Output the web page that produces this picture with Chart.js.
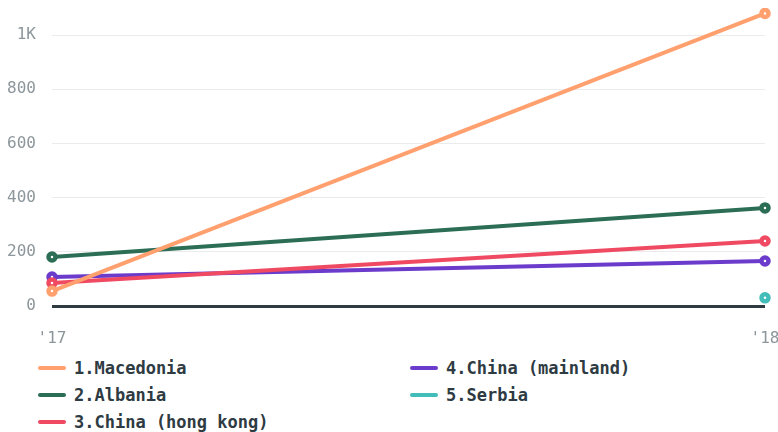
<!DOCTYPE html>
<html lang="en">
<head>
    <meta charset="UTF-8">
    <title>Chart</title>
    <script src="https://cdn.jsdelivr.net/npm/chart.js"></script>
    <style>
        body { margin: 0; background: #fff; width: 778px; height: 432px; overflow: hidden; position: relative; }
        #wrap { position: absolute; left: 0; top: 0; width: 778px; height: 350px; }
        .legend { position: absolute; top: 354px; left: 38px; display: grid; grid-template-columns: 372px 340px; grid-auto-flow: column; grid-template-rows: 27px 27px 27px; }
        .legend div { display: flex; align-items: center; font: bold 17px "DejaVu Sans Mono", monospace; color: #2e3b42; }
        .legend span { display: inline-block; width: 28px; height: 4px; border-radius: 2px; margin-right: 8px; }
    </style>
</head>
<body>
    <div id="wrap"><canvas id="chart"></canvas></div>
    <div class="legend" id="legend"></div>

    <script>
        // years on the x axis
        const years = ["'17", "'18"];
        const seriesNames = ['1.Macedonia', '2.Albania', '3.China (hong kong)', '4.China (mainland)', '5.Serbia'];
        const macedonia = [55, 1080];
        const albania = [181, 362];
        const hongKong = [85, 240];
        const mainland = [107, 166];
        const serbia = [null, 30];
        const colors = ['#ffa06e', '#2b6e55', '#ef4a62', '#6b3bcc', '#42bdb9'];

        const allValues = [macedonia, albania, hongKong, mainland, serbia];

        const datasets = allValues.map((vals, i) => ({
            label: seriesNames[i],
            data: vals,
            borderColor: colors[i],
            backgroundColor: '#ffffff',
            pointBackgroundColor: '#ffffff',
            pointBorderColor: colors[i],
            borderWidth: 4,
            pointRadius: 3.5,
            pointBorderWidth: 4.5,
            pointHoverRadius: 3.5,
            tension: 0
        }));

        // legend, column by column
        const legend = document.getElementById('legend');
        seriesNames.forEach((name, i) => {
            const item = document.createElement('div');
            item.innerHTML = '<span style="background:' + colors[i] + '"></span>' + name;
            legend.appendChild(item);
        });

        new Chart(document.getElementById('chart'), {
            type: 'line',
            data: { labels: years, datasets: datasets },
            options: {
                responsive: true,
                maintainAspectRatio: false,
                animation: false,
                layout: { padding: { top: 8, right: 13, bottom: 0, left: 0 } },
                plugins: { legend: { display: false }, tooltip: { enabled: false } },
                scales: {
                    x: {
                        offset: false,
                        grid: { display: false },
                        border: { display: false },
                        ticks: { color: '#8c969b', padding: 15, maxRotation: 0, font: { family: 'DejaVu Sans Mono', size: 16 } },
                        afterFit: scale => { scale.height = 44; scale.paddingLeft = 0; scale.paddingRight = 0; }
                    },
                    y: {
                        min: 0,
                        max: 1100,
                        border: { display: false },
                        grid: {
                            drawTicks: false,
                            color: c => c.tick.value === 0 ? '#2f3b40' : '#ebebeb',
                            lineWidth: c => c.tick.value === 0 ? 3 : 1
                        },
                        afterBuildTicks: scale => {
                            scale.ticks = [0, 200, 400, 600, 800, 1000].map(v => ({ value: v }));
                        },
                        ticks: {
                            color: '#8c969b',
                            padding: 16,
                            font: { family: 'DejaVu Sans Mono', size: 16 },
                            callback: v => v >= 1000 ? (v / 1000) + 'K' : v
                        },
                        afterFit: scale => { scale.width = 52; scale.paddingTop = 0; scale.paddingBottom = 0; }
                    }
                }
            }
        });
    </script>
</body>
</html>
